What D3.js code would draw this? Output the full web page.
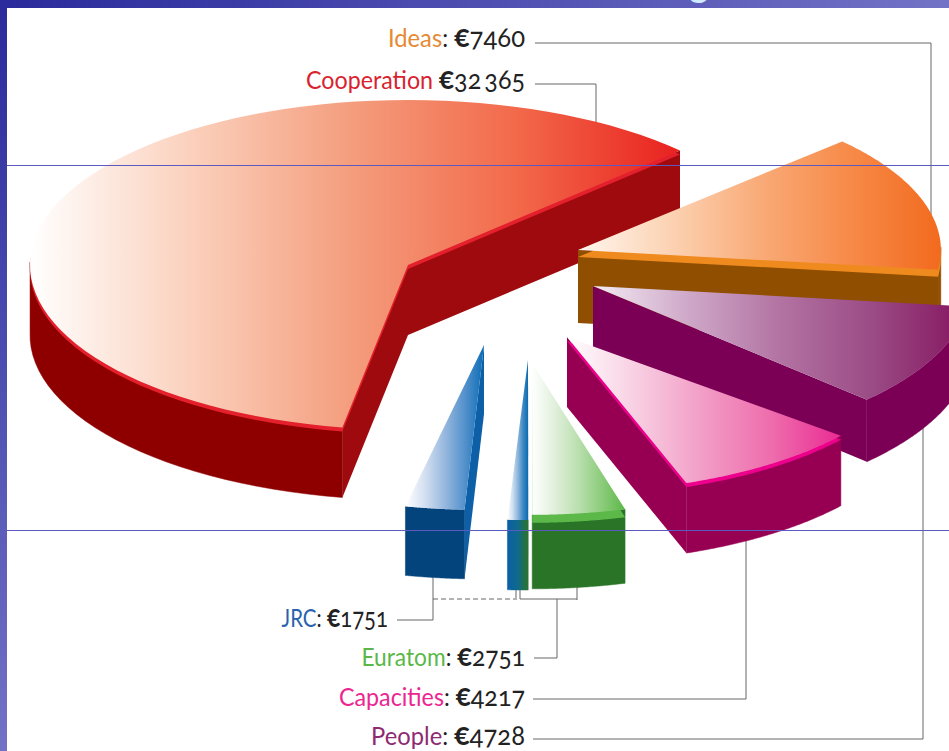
<!DOCTYPE html>
<html>
<head>
<meta charset="utf-8">
<style>
  html, body { margin: 0; padding: 0; background: #fff; overflow: hidden; }
  text { font-family: Lato, "Open Sans", sans-serif; }
</style>
<script src="https://cdn.jsdelivr.net/npm/d3@7"></script>
</head>
<body>
<div class="canvas"></div>
<script>
const dims = { width: 949, height: 751 };

// chart data (million euro)
const programmes = ['Cooperation', 'Ideas', 'People', 'Capacities', 'Euratom', 'JRC'];
const budgets = [32365, 7460, 4728, 4217, 2751, 1751];

// layout of the exploded pieces, one row per drawn piece
// part: which programme it belongs to, from/to: share of that programme's angle
const centre = { x: 408, y: 265 };
const pieces = [
  { part: 0, from: 0, to: 1, dx: 0, dy: 0, r: 1, depth: 70, rim: 4, nudge: [2, -0.7] },
  { part: 1, from: 0, to: 1, dx: 170, dy: -15, r: 0.96, depth: 73, rim: 7, nudge: [0, 0] },
  { part: 2, from: 0, to: 1, dx: 185, dy: 21, r: 1, depth: 62, rim: 0, nudge: [0, 4.5] },
  { part: 3, from: 0, to: 1, dx: 159, dy: 72, r: 0.94, depth: 70, rim: 4, nudge: [0.5, 2.8] },
  { part: 5, from: 0.32, to: 1, dx: 76, dy: 80, r: 1, depth: 69, rim: 0, nudge: [3, 4] },
  { part: 5, from: 0, to: 0.3, dx: 120, dy: 95, r: 0.97, depth: 70, rim: 0, nudge: [3.8, 3.5] },
  { part: 4, from: 0, to: 1, dx: 124, dy: 98, r: 0.92, depth: 74, rim: 8, nudge: [6.9, 3.8] }
];

// colours per piece: top gradient stops, rim, outer wall, cut face
const pieceStyles = [
  { top: ['#ffffff', '#fbd0bc', '#f49c7c', '#f2694a', '#e9211f'], rim: '#e3202b', wall: '#8e0000', face: '#9f0a0e' },
  { top: ['#fff6ee', '#fcd3b4', '#f9ab78', '#f78a48', '#f26a1e'], rim: '#ee8a1e', wall: '#8f4e00', face: '#8f4e00' },
  { top: ['#f3ecf3', '#cfa9c9', '#b273a2', '#9a4a84', '#85155f'], rim: '#7b0055', wall: '#7b0055', face: '#7b0055' },
  { top: ['#ffffff', '#f8cfe2', '#f29cc6', '#ee6cac', '#ea2b93'], rim: '#ec008c', wall: '#970052', face: '#970052' },
  { top: ['#ffffff', '#d3dff0', '#97b8de', '#5592cc', '#0b6db5'], rim: '#03447d', wall: '#03447d', face: '#0d5fa8' },
  { top: ['#ffffff', '#cfe0f0', '#8fb6dc', '#3f8ac4', '#0a6ab0'], rim: '#0a5fa0', wall: 'url(#sliverWall)', face: '#0a5fa0' },
  { top: ['#ffffff', '#e0efda', '#b9dfae', '#8ccc7b', '#5cb848'], rim: '#5cb848', wall: '#2a7428', face: '#2a7428' }
];

const labelColours = ['#d8232f', '#e58a35', '#8e2a72', '#ec2590', '#5bb848', '#2a62ad'];

// leader lines as [x, y] runs, drawn behind the pie
const leaders = [
  [[535, 43], [931, 43], [931, 230]],
  [[535, 84], [596, 84], [596, 130]],
  [[533, 739], [923, 739], [923, 420]],
  [[533, 699], [746, 699], [746, 530]],
  [[534, 658], [557, 658], [557, 599]],
  [[520, 585], [520, 599], [577, 599]],
  [[577, 585], [577, 600]],
  [[397, 620], [433, 620], [433, 575]],
  [[516, 585], [516, 600]]
];

const labelSpots = [
  { i: 1, x: 525, y: 47, sx: 0.95 },
  { i: 0, x: 525, y: 89, sx: 0.93 },
  { i: 4, x: 525, y: 666, sx: 0.91 },
  { i: 5, x: 388, y: 627, sx: 0.82 },
  { i: 3, x: 525, y: 706, sx: 0.93 },
  { i: 2, x: 525, y: 745, sx: 0.95 }
];

const svg = d3.select('.canvas')
  .append('svg')
    .attr('width', dims.width)
    .attr('height', dims.height)
    .style('display', 'block');

const defs = svg.append('defs');

// slide frame behind the picture
const barGrad = defs.append('linearGradient').attr('id', 'barGrad');
barGrad.append('stop').attr('offset', 0).attr('stop-color', '#2a2a9c');
barGrad.append('stop').attr('offset', 1).attr('stop-color', '#7272c6');
const sideGrad = defs.append('linearGradient').attr('id', 'sideGrad')
  .attr('x1', 0).attr('x2', 0).attr('y1', 0).attr('y2', 1);
sideGrad.append('stop').attr('offset', 0).attr('stop-color', '#2a2a9c');
sideGrad.append('stop').attr('offset', 1).attr('stop-color', '#7272c6');

svg.append('rect').attr('width', dims.width).attr('height', dims.height).attr('fill', '#fff');

// scales from the unit disc to the tilted ellipse
const x = d3.scaleLinear().domain([-1, 1]).range([-378, 378]);
const y = d3.scaleLinear().domain([-1, 1]).range([-165, 165]);
const deg = d3.scaleLinear().domain([0, 180]).range([0, Math.PI]);

const pie = d3.pie()
  .sort(null)
  .startAngle(deg(188))
  .endAngle(deg(188 + 360));

const arcs = pie(budgets);

const rim = (p, a) => [
  centre.x + p.dx + x(p.r * Math.sin(a)),
  centre.y + p.dy + y(-p.r * Math.cos(a))
];

const line = d3.line();
const shape = pts => line(pts) + 'Z';

const arcPoints = (p, a0, a1) => d3.range(0, 81).map(i => rim(p, a0 + (a1 - a0) * i / 80));

const drop = (pts, h) => pts.map(d => [d[0], d[1] + h]);

// leaders
const leaderGroup = svg.append('g')
  .attr('fill', 'none')
  .attr('stroke', '#666')
  .attr('stroke-width', 1);

leaderGroup.selectAll('path')
  .data(leaders)
  .enter().append('path')
    .attr('d', line);

leaderGroup.append('path')
  .attr('d', line([[433, 599], [515, 599]]))
  .attr('stroke-dasharray', '5 3');

// wall gradient of the small blue sliver
const sliverWall = defs.append('linearGradient').attr('id', 'sliverWall');
sliverWall.append('stop').attr('offset', 0).attr('stop-color', '#0a5fa6');
sliverWall.append('stop').attr('offset', 0.5).attr('stop-color', '#0f6a8c');
sliverWall.append('stop').attr('offset', 1).attr('stop-color', '#2a7428');

const graph = svg.append('g');

pieces.forEach((p, k) => {
  const s = pieceStyles[k];
  const span = arcs[p.part].endAngle - arcs[p.part].startAngle;
  const a0 = arcs[p.part].startAngle + span * p.from + deg(p.nudge[0]);
  const a1 = arcs[p.part].startAngle + span * p.to + deg(p.nudge[1]);
  const apex = [centre.x + p.dx, centre.y + p.dy];
  const edge = arcPoints(p, a0, a1);
  const top = [apex].concat(edge);
  const g = graph.append('g');

  // gradient across the width of this piece
  const xs = edge.map(d => d[0]).concat(apex[0]);
  const grad = defs.append('linearGradient')
    .attr('id', `top${k}`)
    .attr('gradientUnits', 'userSpaceOnUse')
    .attr('x1', d3.min(xs)).attr('x2', d3.max(xs))
    .attr('y1', 0).attr('y2', 0);
  s.top.forEach((c, i) => grad.append('stop').attr('offset', i / (s.top.length - 1)).attr('stop-color', c));

  // cut faces, only the ones turned towards the viewer
  const faces = [];
  if (Math.sin(a0) < 0.001) faces.push(edge[0]);
  if (Math.sin(a1) > 0.001) faces.push(edge[edge.length - 1]);
  faces.forEach(e => {
    const q = [apex, e];
    g.append('path')
      .attr('d', shape(q.concat(drop(q, p.depth).reverse())))
      .attr('fill', s.face);
  });

  // front part of the outer wall only
  const front = d3.range(0, 81)
    .map(i => a0 + (a1 - a0) * i / 80)
    .filter(a => Math.cos(a) < 0.02)
    .map(a => rim(p, a));
  if (front.length > 1) {
    g.append('path')
      .attr('d', shape(front.concat(drop(front, p.depth).reverse())))
      .attr('fill', s.wall)
      .attr('stroke', s.wall)
      .attr('stroke-width', 0.5);
  }

  // bevel then top
  if (p.rim) {
    g.append('path').attr('d', shape(drop(top, p.rim))).attr('fill', s.rim);
  }
  g.append('path').attr('d', shape(top)).attr('fill', `url(#top${k})`);
});

// slide guide lines and frame sit over the picture
[165, 530].forEach(gy => {
  svg.append('line')
    .attr('x1', 7).attr('x2', dims.width)
    .attr('y1', gy + 0.5).attr('y2', gy + 0.5)
    .attr('stroke', '#5a5ac0')
    .attr('stroke-width', 1);
});

svg.append('rect').attr('width', dims.width).attr('height', 8).attr('fill', 'url(#barGrad)');
svg.append('rect').attr('width', 7).attr('height', dims.height).attr('fill', 'url(#sideGrad)');

// bit of the cut off slide title
svg.append('text')
  .attr('x', 699).attr('y', -3)
  .attr('text-anchor', 'middle')
  .attr('font-size', 36)
  .attr('font-weight', 700)
  .attr('fill', '#cfeaff')
  .text('g');

// labels
const money = v => v >= 10000 ? d3.format(',')(v).replace(',', '\u2009') : String(v);

const labels = svg.append('g')
  .attr('font-size', 25)
  .attr('text-anchor', 'end')
  .selectAll('text')
  .data(labelSpots)
  .enter().append('text')
    .attr('transform', d => `translate(${d.x}, ${d.y}) scale(${d.sx}, 1)`)
    .style('font-variant-numeric', 'oldstyle-nums');

labels.append('tspan')
  .attr('fill', d => labelColours[d.i])
  .text(d => programmes[d.i]);

labels.append('tspan')
  .attr('fill', '#222')
  .text(d => d.i === 0 ? ' ' : ': ');

labels.append('tspan')
  .attr('fill', '#222')
  .attr('font-weight', 700)
  .attr('font-size', 30)
  .text('€');

labels.append('tspan')
  .attr('fill', '#222')
  .attr('font-size', 27)
  .text(d => money(budgets[d.i]));
</script>
</body>
</html>
